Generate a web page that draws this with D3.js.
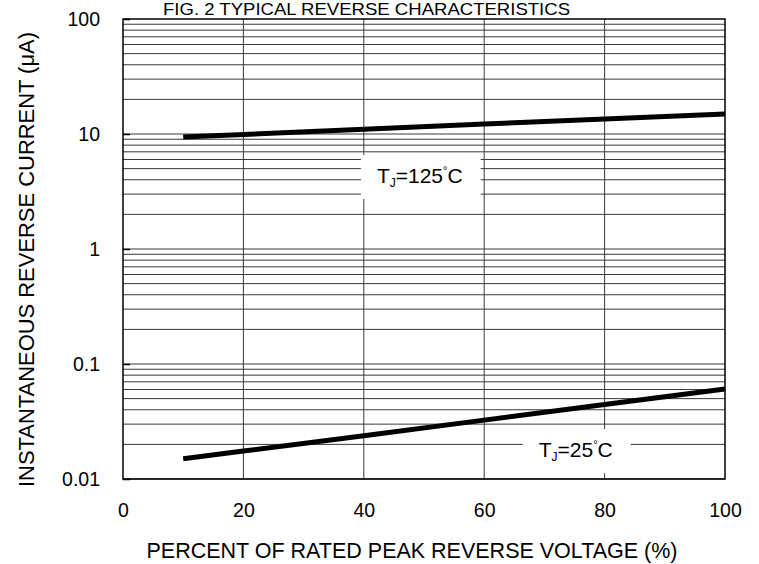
<!DOCTYPE html>
<html>
<head>
<meta charset="utf-8">
<script src="https://cdn.jsdelivr.net/npm/d3@7"></script>
<style>
  body { margin: 0; background: #fff; }
  text { font-family: "Liberation Sans", Arial, sans-serif; fill: #000; }
</style>
</head>
<body>
<svg id="chart" width="759" height="564"></svg>
<script>
const WIDTH = 759;
const HEIGHT = 564;
const MARGIN = { left: 123, right: 34, top: 19, bottom: 85 };

// percent of rated peak reverse voltage
const voltagePct = [10, 20, 40, 60, 80, 100];
// reverse current (uA)
const current125 = [9.4, 9.9, 11.0, 12.2, 13.5, 14.9];
const current25 = [0.015, 0.0175, 0.0238, 0.0325, 0.0444, 0.0606];

const xTicks = [0, 20, 40, 60, 80, 100];
const yTicks = [0.01, 0.1, 1, 10, 100];
const yTickLabels = ["0.01", "0.1", "1", "10", "100"];

// curve labels: [pct, current] of the text baseline centre
const labelNames = ["125", "25"];
const labelPos = [[49.3, 3.75], [75.2, 0.0155]];

const x = d3.scaleLinear().domain([0, 100]).range([MARGIN.left, WIDTH - MARGIN.right]);
const y = d3.scaleLog().domain([0.01, 100]).range([HEIGHT - MARGIN.bottom, MARGIN.top]);

const svg = d3.select("#chart");

// minor + major horizontal grid
let hGrid = [];
for (let dec = 0.01; dec < 100; dec *= 10) {
  for (let m = 1; m <= 9; m++) hGrid.push(+(dec * m).toPrecision(3));
}
svg.append("g").attr("id", "hgrid")
  .selectAll("line").data(hGrid).join("line")
  .attr("x1", x(0)).attr("x2", x(100))
  .attr("y1", d => y(d)).attr("y2", d => y(d))
  .attr("stroke", "#3a3a3a").attr("stroke-width", 1);

svg.append("g").attr("id", "vgrid")
  .selectAll("line").data([20, 40, 60, 80]).join("line")
  .attr("x1", d => x(d)).attr("x2", d => x(d))
  .attr("y1", y(100)).attr("y2", y(0.01))
  .attr("stroke", "#3a3a3a").attr("stroke-width", 1);

// curves
const line = d3.line().x(d => x(d[0])).y(d => y(d[1]));
svg.append("path")
  .datum(d3.zip(voltagePct, current125))
  .attr("d", line).attr("fill", "none")
  .attr("stroke", "#000").attr("stroke-width", 5);
svg.append("path")
  .datum(d3.zip(voltagePct, current25))
  .attr("d", line).attr("fill", "none")
  .attr("stroke", "#000").attr("stroke-width", 5);

// curve labels with white boxes
labelNames.forEach((name, i) => {
  const g = svg.append("g");
  const box = g.append("rect").attr("fill", "#fff");
  const t = g.append("text")
    .attr("x", x(labelPos[i][0])).attr("y", y(labelPos[i][1]))
    .attr("text-anchor", "middle").style("font-size", "21px");
  t.append("tspan").text("T");
  t.append("tspan").text("J").style("font-size", "12px").attr("dy", 4);
  t.append("tspan").text("=" + name).attr("dy", -4);
  t.append("tspan").text("°").style("font-size", "11px").attr("dy", -9);
  t.append("tspan").text("C").attr("dy", 9);
  const bb = t.node().getBBox();
  box.attr("x", bb.x - 16).attr("width", bb.width + 34)
    .attr("y", y(labelPos[i][1]) - 28).attr("height", 44);
});

// frame
svg.append("rect")
  .attr("x", x(0)).attr("y", y(100))
  .attr("width", x(100) - x(0)).attr("height", y(0.01) - y(100))
  .attr("fill", "none").attr("stroke", "#000").attr("stroke-width", 1.5);

// axes
svg.append("g")
  .attr("transform", `translate(${x(0)},0)`)
  .call(d3.axisLeft(y).tickValues(yTicks).tickFormat((d, i) => yTickLabels[i])
    .tickSizeInner(-7).tickSizeOuter(0).tickPadding(23))
  .call(g => g.select(".domain").remove())
  .call(g => g.selectAll(".tick line").attr("stroke", "#000").attr("stroke-width", 1.5))
  .call(g => g.selectAll("text").style("font-size", "19.5px").attr("font-family", null));

svg.append("g")
  .attr("transform", `translate(0,${y(0.01)})`)
  .call(d3.axisBottom(x).tickValues(xTicks).tickSize(0).tickPadding(24))
  .call(g => g.select(".domain").remove())
  .call(g => g.selectAll("text").style("font-size", "19.5px").attr("font-family", null));

// titles
svg.append("text")
  .attr("x", 163).attr("y", 15)
  .attr("textLength", 407).attr("lengthAdjust", "spacingAndGlyphs")
  .style("font-size", "17px")
  .text("FIG. 2 TYPICAL REVERSE CHARACTERISTICS");

svg.append("text")
  .attr("x", 412).attr("y", 558)
  .attr("text-anchor", "middle")
  .attr("textLength", 531).attr("lengthAdjust", "spacingAndGlyphs")
  .style("font-size", "21.5px")
  .text("PERCENT OF RATED PEAK REVERSE VOLTAGE (%)");

svg.append("text")
  .attr("transform", "translate(33.5,259.5) rotate(-90)")
  .attr("text-anchor", "middle")
  .attr("textLength", 455).attr("lengthAdjust", "spacingAndGlyphs")
  .style("font-size", "21.5px")
  .text("INSTANTANEOUS REVERSE CURRENT (μA)");
</script>
</body>
</html>
